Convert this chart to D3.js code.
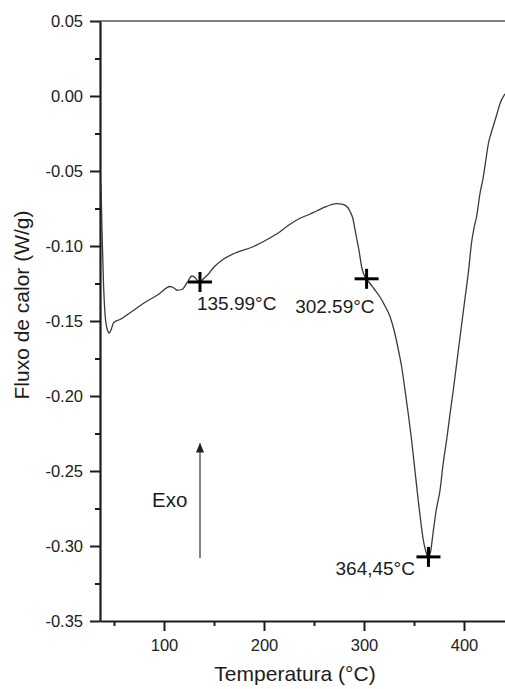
<!DOCTYPE html>
<html>
<head>
<meta charset="utf-8">
<script src="https://cdn.jsdelivr.net/npm/d3@7/dist/d3.min.js"></script>
<style>
  html, body { margin: 0; padding: 0; background: #fff; }
  svg { display: block; font-family: "Liberation Sans", Arial, Helvetica, sans-serif; }
</style>
</head>
<body>
<svg id="chart" width="505" height="689"></svg>
<script>
// DSC curve: temperature (°C) and heat flow (W/g)
const tempC = [
  37, 38, 39.5, 41, 43, 45.3, 47, 49.3, 52, 56, 65, 80, 95, 106,
  110, 113, 118, 123, 128, 131, 134, 136, 140, 144, 150, 159, 170, 189,
  205, 216, 226, 236, 245, 253, 262, 268, 273, 279, 284, 286, 289, 291,
  293, 295, 297.7, 299.3, 302.7, 306, 310, 316, 321, 326, 330, 334.3, 338,
  341, 344.5, 347.7, 351, 354.3, 357, 359.3, 362, 364.3, 366.5, 369.3, 372.5,
  376, 379, 382.7, 386, 389.3, 393.5, 397.7, 401, 404.3, 407.7, 410, 412.7,
  416, 419.3, 422, 424.3, 427, 429.3, 432.5, 436, 441
];
const heatFlow = [
  -0.058, -0.090, -0.125, -0.145, -0.155, -0.158, -0.156, -0.1515, -0.150, -0.149, -0.145, -0.138, -0.132, -0.127,
  -0.128, -0.1295, -0.129, -0.1245, -0.120, -0.121, -0.1235, -0.1240, -0.1215, -0.1190, -0.1140, -0.1090, -0.1050, -0.1005,
  -0.0950, -0.0905, -0.0855, -0.0815, -0.0790, -0.0765, -0.0738, -0.0722, -0.0717, -0.0722, -0.0745, -0.0770, -0.0820, -0.0890,
  -0.0960, -0.1030, -0.1140, -0.1180, -0.1220, -0.1250, -0.1285, -0.1340, -0.1400, -0.1470, -0.1560, -0.1690, -0.1820,
  -0.1960, -0.2130, -0.2300, -0.2500, -0.2700, -0.2850, -0.2960, -0.3040, -0.3075, -0.3040, -0.2900, -0.2750,
  -0.2630, -0.2460, -0.2290, -0.2120, -0.1960, -0.1740, -0.1520, -0.1350, -0.1180, -0.0970, -0.0880, -0.0800,
  -0.0650, -0.0540, -0.0420, -0.0320, -0.0250, -0.0200, -0.0130, -0.0050, 0.0015
];

// Peak / onset annotations
const markerTemps = [135.99, 302.59, 364.45];
const markerLabels = ["135.99°C", "302.59°C", "364,45°C"];

// Axis ticks
const xTicks = [100, 200, 300, 400];
const xMinorTicks = [50, 150, 250, 350, 450];
const yTicks = [0.05, 0.00, -0.05, -0.10, -0.15, -0.20, -0.25, -0.30, -0.35];
const yTickLabels = ["0.05", "0.00", "-0.05", "-0.10", "-0.15", "-0.20", "-0.25", "-0.30", "-0.35"];
const yMinorTicks = [0.025, -0.025, -0.075, -0.125, -0.175, -0.225, -0.275, -0.325];

// Exo direction arrow (temperature, heat-flow range) and its caption position
const exoArrowTemp = 136;
const exoArrowFlow = [-0.308, -0.231];
const exoLabelPos = [88, -0.274];

const svg = d3.select("#chart");
const plotLeft = 100, plotRight = 505, plotTop = 21, plotBottom = 621;

const x = d3.scaleLinear().domain([36, 441]).range([plotLeft, plotRight]);
const y = d3.scaleLinear().domain([-0.35, 0.05]).range([plotBottom, plotTop]);

const ink = "#1c1c1c";
const fontStack = '"Liberation Sans", Arial, sans-serif';

// top frame line
svg.append("line")
  .attr("x1", plotLeft).attr("x2", plotRight)
  .attr("y1", y(0.05)).attr("y2", y(0.05))
  .attr("stroke", "#808080").attr("stroke-width", 1.8);

// minor ticks
svg.append("g")
  .attr("transform", `translate(${plotLeft},0)`)
  .call(d3.axisLeft(y).tickValues(yMinorTicks).tickSize(5).tickSizeOuter(0).tickFormat(""))
  .call(g => g.select(".domain").remove())
  .call(g => g.selectAll("line").attr("stroke", ink).attr("stroke-width", 2));

svg.append("g")
  .attr("transform", `translate(0,${plotBottom})`)
  .call(d3.axisBottom(x).tickValues(xMinorTicks.filter(t => x(t) <= plotRight)).tickSize(5).tickSizeOuter(0).tickFormat(""))
  .call(g => g.select(".domain").remove())
  .call(g => g.selectAll("line").attr("stroke", ink).attr("stroke-width", 2));

// main axes
const yAxis = svg.append("g")
  .attr("transform", `translate(${plotLeft},0)`)
  .call(d3.axisLeft(y).tickValues(yTicks).tickSize(10).tickSizeOuter(0).tickPadding(7)
    .tickFormat((d, i) => yTickLabels[i]));
yAxis.select(".domain").attr("stroke", ink).attr("stroke-width", 2.2);
yAxis.selectAll("line").attr("stroke", ink).attr("stroke-width", 2);
yAxis.selectAll("text").attr("fill", "#222").style("font-size", "16.5px").style("font-family", fontStack);

const xAxis = svg.append("g")
  .attr("transform", `translate(0,${plotBottom})`)
  .call(d3.axisBottom(x).tickValues(xTicks).tickSize(10).tickSizeOuter(0).tickPadding(8));
xAxis.select(".domain").attr("stroke", ink).attr("stroke-width", 2.2);
xAxis.selectAll("line").attr("stroke", ink).attr("stroke-width", 2);
xAxis.selectAll("text").attr("fill", "#222").style("font-size", "16.5px").style("font-family", fontStack);

// axis titles
svg.append("text")
  .attr("x", 295).attr("y", 681)
  .attr("text-anchor", "middle")
  .attr("fill", ink)
  .style("font-size", "21px")
  .text("Temperatura (°C)");

svg.append("text")
  .attr("transform", "translate(29,305) rotate(-90)")
  .attr("text-anchor", "middle")
  .attr("fill", ink)
  .style("font-size", "21px")
  .text("Fluxo de calor (W/g)");

// DSC curve
const pts = tempC.map((t, i) => [t, heatFlow[i]]);
const line = d3.line()
  .x(d => x(d[0]))
  .y(d => y(d[1]))
  .curve(d3.curveMonotoneX);

svg.append("path")
  .datum(pts)
  .attr("d", line)
  .attr("fill", "none")
  .attr("stroke", "#3a3a3a")
  .attr("stroke-width", 1.3)
  .attr("stroke-linejoin", "round");

// markers sit on the curve at each annotated temperature
const flowAt = d3.scaleLinear().domain(tempC).range(heatFlow);
const markers = markerTemps.map((t, i) => ({ t, v: flowAt(t), label: markerLabels[i] }));

const mk = svg.append("g");
markers.forEach(m => {
  const cx = x(m.t), cy = y(m.v);
  mk.append("line").attr("x1", cx - 12).attr("x2", cx + 12).attr("y1", cy).attr("y2", cy)
    .attr("stroke", "#000").attr("stroke-width", 3);
  mk.append("line").attr("x1", cx).attr("x2", cx).attr("y1", cy - 10).attr("y2", cy + 10)
    .attr("stroke", "#000").attr("stroke-width", 3);
});

// marker captions
const labelOffsets = [[-3, 28, "start"], [8, 34.5, "end"], [-13.5, 18, "end"]];
markers.forEach((m, i) => {
  const [dx, dy, anchor] = labelOffsets[i];
  svg.append("text")
    .attr("x", x(m.t) + dx).attr("y", y(m.v) + dy)
    .attr("text-anchor", anchor)
    .attr("fill", ink)
    .style("font-size", "19px")
    .text(m.label);
});

// Exo arrow
const ax = x(exoArrowTemp), ayTip = y(exoArrowFlow[1]);
svg.append("line")
  .attr("x1", ax).attr("x2", ax)
  .attr("y1", y(exoArrowFlow[0])).attr("y2", ayTip + 2)
  .attr("stroke", "#333").attr("stroke-width", 1.2);
svg.append("path")
  .attr("d", `M${ax - 4},${ayTip + 10} L${ax},${ayTip} L${ax + 4},${ayTip + 10} Z`)
  .attr("fill", "#222");

svg.append("text")
  .attr("x", x(exoLabelPos[0])).attr("y", y(exoLabelPos[1]))
  .attr("fill", ink)
  .style("font-size", "20.5px")
  .text("Exo");
</script>
</body>
</html>
